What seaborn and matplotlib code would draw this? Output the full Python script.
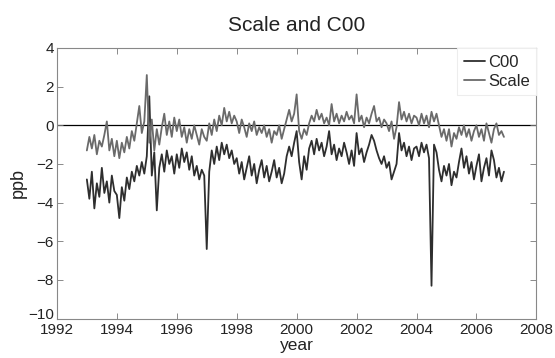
import numpy as np
import pandas as pd
import seaborn as sns
import matplotlib.pyplot as plt
from matplotlib.transforms import ScaledTranslation

# monthly samples, 1993.0 .. 2006.92
years = 1993 + np.arange(168) / 12.0

scale = [
    -1.3, -0.6, -1.2, -0.5, -1.5, -0.8, -1.1, -0.5, 0.2, -1.3, -0.7, -1.6,   # 1993
    -0.8, -1.7, -0.9, -1.4, -0.6, -1.2, -0.3, -0.8, 0.1, 1.0, -0.4, 0.2,     # 1994
    2.6, -0.9, 0.3, -1.3, -0.2, -1.0, -0.1, 0.6, -0.5, 0.2, -0.6, 0.4,       # 1995
    -0.3, 0.3, -0.6, -0.1, -0.9, -0.2, -0.7, 0.0, -0.5, -1.0, -0.2, -0.6,    # 1996
    -0.8, 0.1, -0.5, 0.3, -0.3, 0.5, 0.0, 0.9, 0.2, 0.7, 0.1, 0.5,           # 1997
    0.2, -0.4, 0.3, -0.1, -0.6, 0.1, -0.3, 0.2, -0.5, -0.1, -0.4, 0.0,       # 1998
    -0.6, -0.2, -0.9, -0.3, -0.5, 0.0, -0.7, -0.2, 0.3, 0.8, 0.2, 0.6,       # 1999
    1.6, -0.3, -0.7, -0.2, -0.5, 0.1, 0.5, 0.2, 0.8, 0.3, 0.6, 0.1,          # 2000
    0.4, 0.0, 1.1, 0.2, 0.6, 0.1, 0.5, 0.2, 0.7, 0.3, 0.5, 0.1,              # 2001
    1.6, 0.2, 0.5, -0.1, 0.4, 0.1, 0.6, 1.0, 0.2, 0.4, -0.1, 0.3,            # 2002
    0.1, -0.3, 0.2, -0.7, -0.1, 1.2, 0.3, 0.7, 0.2, 0.6, 0.1, 0.5,           # 2003
    0.4, 0.0, 0.6, 0.1, 0.5, -0.1, 0.7, 0.2, 0.6, 0.0, -0.6, -0.2,           # 2004
    -0.8, -0.2, -1.1, -0.4, -0.7, -0.1, -0.5, 0.0, -0.6, -0.2, -0.8, -0.3,   # 2005
    0.0, -0.6, -0.2, -0.8, 0.1, -0.4, -0.9, -0.2, 0.1, -0.5, -0.3, -0.6,     # 2006
]

c00 = [
    -2.8, -3.8, -2.4, -4.3, -3.0, -3.7, -2.2, -3.5, -2.9, -4.0, -2.6, -3.4,  # 1993
    -3.6, -4.8, -3.2, -3.9, -2.7, -3.3, -2.4, -2.9, -2.1, -2.6, -1.9, -2.5,  # 1994
    -1.6, 1.5, -2.6, -1.4, -4.4, -2.2, -1.5, -2.4, -1.3, -2.0, -1.6, -2.5,   # 1995
    -1.5, -2.2, -1.2, -1.9, -1.4, -2.3, -1.6, -2.6, -2.1, -2.8, -2.3, -2.6,  # 1996
    -6.4, -2.4, -1.3, -2.0, -1.1, -1.8, -0.9, -1.5, -1.0, -1.7, -1.3, -2.0,  # 1997
    -1.7, -2.5, -1.9, -2.8, -2.2, -1.6, -2.6, -2.0, -3.0, -2.3, -1.8, -2.7,  # 1998
    -2.1, -2.9, -2.4, -1.8, -2.7, -2.2, -3.0, -2.5, -1.6, -1.1, -1.6, -0.9,  # 1999
    -0.3, -1.9, -2.8, -1.6, -2.3, -1.2, -0.8, -1.5, -0.7, -1.3, -0.9, -1.6,  # 2000
    -1.1, -0.3, -1.5, -1.0, -1.8, -1.2, -1.6, -0.9, -1.4, -2.0, -1.3, -2.1,  # 2001
    -0.4, -1.5, -1.2, -1.9, -1.4, -1.0, -0.5, -0.8, -1.3, -1.7, -2.0, -1.6,  # 2002
    -2.2, -1.9, -2.8, -2.4, -2.0, -0.4, -1.3, -0.9, -1.6, -1.1, -1.8, -1.2,  # 2003
    -1.1, -1.6, -0.9, -1.4, -1.0, -1.7, -8.3, -1.0, -1.4, -2.3, -2.9, -2.1,  # 2004
    -2.6, -2.0, -3.1, -2.4, -2.7, -1.9, -1.2, -2.2, -1.6, -2.5, -1.9, -2.8,  # 2005
    -2.1, -1.5, -2.9, -2.2, -1.7, -2.6, -1.3, -1.8, -2.7, -2.2, -2.9, -2.4,  # 2006
]

xticks = list(range(1992, 2009, 2))
yticks = list(range(-10, 5, 2))

sns.set_style("ticks")
plt.rcParams['font.family'] = ['Liberation Sans', 'DejaVu Sans']

df = pd.DataFrame({"year": years, "C00": c00, "Scale": scale})

fig = plt.figure(figsize=(5.55, 3.58), dpi=100)
ax = fig.add_axes([0.1025, 0.110, 0.864, 0.756])

sns.lineplot(data=df, x="year", y="C00", color="#2e2e2e", lw=1.3, label="C00", ax=ax)
sns.lineplot(data=df, x="year", y="Scale", color="#6a6a6a", lw=1.3, label="Scale", ax=ax)
ax.axhline(0, color="black", lw=0.9, zorder=0.5)

ax.set_xlim(1992, 2008)
ax.set_ylim(-10, 4)
ax.set_xticks(xticks)
ax.set_yticks(yticks)
ax.tick_params(direction="in", length=4, width=0.6, colors="#777777",
               labelcolor="#222222", labelsize=11, top=True, right=True)
ax.tick_params(axis="x", pad=3)
ax.tick_params(axis="y", pad=2)
for sp in ax.spines.values():
    sp.set_visible(True)
    sp.set_color("#888888")
    sp.set_linewidth(0.8)

# lift the bottom y label a little, as in the original it sits just above "1992"
lowest = ax.get_yticklabels()[0]
lowest.set_transform(lowest.get_transform() + ScaledTranslation(0, 4 / 72, fig.dpi_scale_trans))

ax.set_title("Scale and C00", fontsize=15, color="#222222", pad=12)
ax.set_xlabel("year", fontsize=12.5, color="#222222", labelpad=1)
ax.set_ylabel("ppb", fontsize=13, color="#222222", labelpad=1)

leg = ax.legend(loc="upper right", fontsize=12, frameon=True, fancybox=False,
                handlelength=1.3, handletextpad=0.15, borderaxespad=0.0,
                borderpad=0.4, labelspacing=0.25, framealpha=1)
leg.get_frame().set_edgecolor("#ededed")
leg.get_frame().set_linewidth(0.8)

fig.savefig("out.png", dpi=100)
